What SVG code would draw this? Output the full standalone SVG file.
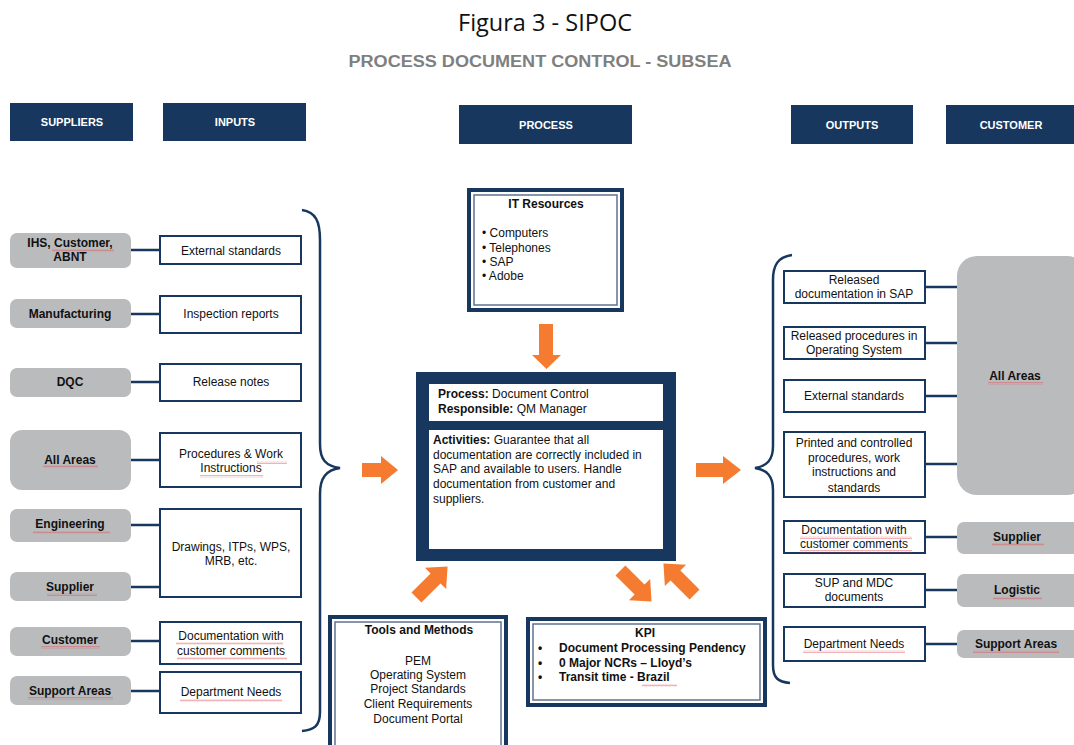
<svg xmlns="http://www.w3.org/2000/svg" width="1074" height="745" viewBox="0 0 1074 745">
<defs>
<style>
text{font-family:"Liberation Sans",Arial,sans-serif;font-size:12px;fill:#111}
.hd{fill:#17375e}
.hdt{fill:#fff;font-weight:bold;font-size:11px;text-anchor:middle}
.sup{fill:#b9bbbd}
.b{font-weight:bold}
.c{text-anchor:middle}
.box{fill:#fff;stroke:#17375e;stroke-width:2}
.ln{stroke:#17375e;stroke-width:2.5;fill:none}
.brace{stroke:#17375e;stroke-width:2.5;fill:none}
.arr{fill:#f47b30}
.dbl{fill:#fff;stroke:#17375e;stroke-width:4}
.dbli{fill:none;stroke:#5f7390;stroke-width:1.5}
.sq{fill:url(#sq);opacity:0.75}
</style>
<pattern id="sq" width="4" height="3" patternUnits="userSpaceOnUse">
<path d="M0 2.4 L1 0.6 L2 2.4 L3 0.6 L4 2.4" stroke="#e05058" stroke-width="0.6" fill="none"/>
</pattern>
<polygon id="darr" points="-22,-7 5,-7 5,-15 22,0 5,15 5,7 -22,7"/>
</defs>
<rect width="1074" height="745" fill="#fff"/>

<g id="title">
<text x="545" y="31" text-anchor="middle" style="font-family:'Open Sans','Noto Sans',sans-serif;font-size:23px" textLength="174" lengthAdjust="spacingAndGlyphs">Figura 3 - SIPOC</text>
<text x="540" y="67" text-anchor="middle" style="font-size:16px;font-weight:bold;fill:#7f7f7f" textLength="383" lengthAdjust="spacingAndGlyphs">PROCESS DOCUMENT CONTROL - SUBSEA</text>
</g>

<g id="headers">
<g id="h-suppliers"><rect class="hd" x="10" y="103" width="123" height="38"/><text class="hdt" x="72" y="126">SUPPLIERS</text></g>
<g id="h-inputs"><rect class="hd" x="163" y="103" width="143" height="38"/><text class="hdt" x="235" y="126">INPUTS</text></g>
<g id="h-process"><rect class="hd" x="459" y="105" width="173" height="39"/><text class="hdt" x="546" y="129">PROCESS</text></g>
<g id="h-outputs"><rect class="hd" x="791" y="105" width="122" height="39"/><text class="hdt" x="852" y="129">OUTPUTS</text></g>
<g id="h-customer"><rect class="hd" x="946" y="105" width="128" height="39"/><text class="hdt" x="1011" y="129">CUSTOMER</text></g>
</g>

<g id="connectors">
<line class="ln" x1="131" y1="250" x2="160" y2="250"/>
<line class="ln" x1="131" y1="314" x2="160" y2="314"/>
<line class="ln" x1="131" y1="382" x2="160" y2="382"/>
<line class="ln" x1="131" y1="460" x2="160" y2="460"/>
<line class="ln" x1="131" y1="525" x2="160" y2="525"/>
<line class="ln" x1="131" y1="587" x2="160" y2="587"/>
<line class="ln" x1="131" y1="641" x2="160" y2="641"/>
<line class="ln" x1="131" y1="691" x2="160" y2="691"/>
<line class="ln" x1="925" y1="287" x2="957" y2="287"/>
<line class="ln" x1="925" y1="343" x2="957" y2="343"/>
<line class="ln" x1="925" y1="396" x2="957" y2="396"/>
<line class="ln" x1="925" y1="464" x2="957" y2="464"/>
<line class="ln" x1="925" y1="537" x2="957" y2="537"/>
<line class="ln" x1="925" y1="590" x2="957" y2="590"/>
<line class="ln" x1="925" y1="644" x2="957" y2="644"/>
<path class="brace" d="M302,210 C316,212 320,222 320,240 L320,444 C320,460 326,466 340,468 C326,470 320,478 320,494 L320,712 C320,726 314,730 302,731"/>
<path class="brace" d="M792,255 C778,257 773,265 773,280 L773,446 C773,460 767,466 755,468 C767,470 773,476 773,490 L773,665 C773,678 778,682 790,683"/>
<polygon class="arr" points="362,463 381,463 381,456 398,470 381,484 381,477 362,477"/>
<polygon class="arr" points="696,463 723,463 723,456 741,470 723,484 723,477 696,477"/>
<polygon class="arr" points="539,324 553,324 553,355 561,355 546.5,369 532,355 539,355"/>
<use href="#darr" class="arr" transform="translate(432,582) rotate(-45)"/>
<use href="#darr" class="arr" transform="translate(636,586) rotate(45)"/>
<use href="#darr" class="arr" transform="translate(679,579) rotate(-135)"/>
</g>

<g id="suppliers">
<g id="s-ihs"><rect class="sup" x="10" y="233" width="121" height="35" rx="7"/><text class="b c" x="70" y="247">IHS, Customer,</text><text class="b c" x="70" y="261">ABNT</text></g>
<g id="s-manufacturing"><rect class="sup" x="10" y="299" width="121" height="29" rx="7"/><text class="b c" x="70" y="318">Manufacturing</text></g>
<g id="s-dqc"><rect class="sup" x="10" y="368" width="121" height="29" rx="7"/><text class="b c" x="70" y="386">DQC</text></g>
<g id="s-allareas"><rect class="sup" x="10" y="430" width="121" height="60" rx="12"/><text class="b c" x="70" y="464">All Areas</text></g>
<g id="s-engineering"><rect class="sup" x="10" y="509" width="121" height="33" rx="7"/><text class="b c" x="70" y="528">Engineering</text></g>
<g id="s-supplier"><rect class="sup" x="10" y="572" width="121" height="29" rx="7"/><text class="b c" x="70" y="591">Supplier</text></g>
<g id="s-customer"><rect class="sup" x="10" y="627" width="121" height="29" rx="7"/><text class="b c" x="70" y="644">Customer</text></g>
<g id="s-support"><rect class="sup" x="10" y="676" width="121" height="29" rx="7"/><text class="b c" x="70" y="695">Support Areas</text></g>
</g>

<g id="inputs">
<g id="i-ext"><rect class="box" x="160" y="236" width="141" height="28"/><text class="c" x="231" y="255">External standards</text></g>
<g id="i-insp"><rect class="box" x="160" y="296" width="141" height="37"/><text class="c" x="231" y="318">Inspection reports</text></g>
<g id="i-rel"><rect class="box" x="160" y="364" width="141" height="37"/><text class="c" x="231" y="386">Release notes</text></g>
<g id="i-proc"><rect class="box" x="160" y="433" width="141" height="54"/><text class="c" x="231" y="458">Procedures &amp; Work</text><text class="c" x="231" y="472">Instructions</text></g>
<g id="i-draw"><rect class="box" x="160" y="509" width="141" height="88"/><text class="c" x="231" y="551">Drawings, ITPs, WPS,</text><text class="c" x="231" y="565">MRB,  etc.</text></g>
<g id="i-doc"><rect class="box" x="160" y="622" width="141" height="42"/><text class="c" x="231" y="640">Documentation  with</text><text class="c" x="231" y="655">customer comments</text></g>
<g id="i-dept"><rect class="box" x="160" y="672" width="141" height="41"/><text class="c" x="231" y="696">Department  Needs</text></g>
</g>

<g id="it-resources">
<rect class="dbl" x="469" y="190" width="153" height="120"/>
<rect class="dbli" x="474" y="195" width="143" height="110"/>
<text class="b c" x="546" y="208">IT Resources</text>
<text x="482" y="237">• Computers</text>
<text x="482" y="252">• Telephones</text>
<text x="482" y="266">• SAP</text>
<text x="482" y="280">• Adobe</text>
</g>

<g id="process">
<rect x="416" y="372" width="260" height="189" fill="#17375e"/>
<rect x="429" y="384" width="234" height="37" fill="#fff"/>
<rect x="429" y="430" width="234" height="119" fill="#fff"/>
<text x="438" y="398"><tspan class="b">Process:</tspan> Document Control</text>
<text x="438" y="413"><tspan class="b">Responsible:</tspan> QM Manager</text>
<text x="433" y="444"><tspan class="b">Activities:</tspan> Guarantee that all</text>
<text x="433" y="459">documentation are correctly included in</text>
<text x="433" y="473">SAP and available to users. Handle</text>
<text x="433" y="488">documentation  from customer and</text>
<text x="433" y="503">suppliers.</text>
</g>

<g id="tools">
<rect class="dbl" x="330" y="617" width="176" height="140"/>
<rect class="dbli" x="335" y="622" width="166" height="130"/>
<text class="b c" x="419" y="634">Tools and Methods</text>
<text class="c" x="418" y="665">PEM</text>
<text class="c" x="418" y="679">Operating System</text>
<text class="c" x="418" y="693">Project Standards</text>
<text class="c" x="418" y="708">Client Requirements</text>
<text class="c" x="418" y="723">Document Portal</text>
</g>

<g id="kpi">
<rect class="dbl" x="528" y="619" width="237" height="86"/>
<rect class="dbli" x="533" y="624" width="227" height="76"/>
<text class="b c" x="645" y="637">KPI</text>
<text class="b" x="538" y="652">•</text>
<text class="b" x="538" y="667">•</text>
<text class="b" x="538" y="681">•</text>
<text class="b" x="559" y="652">Document Processing  Pendency</text>
<text class="b" x="559" y="667">0 Major NCRs – Lloyd’s</text>
<text class="b" x="559" y="681">Transit time - Brazil</text>
</g>

<g id="outputs">
<g id="o-sap"><rect class="box" x="784" y="271" width="141" height="32"/><text class="c" x="854" y="284">Released</text><text class="c" x="854" y="298">documentation in SAP</text></g>
<g id="o-os"><rect class="box" x="784" y="327" width="141" height="32"/><text class="c" x="854" y="340">Released procedures in</text><text class="c" x="854" y="354">Operating System</text></g>
<g id="o-ext"><rect class="box" x="784" y="380" width="141" height="32"/><text class="c" x="854" y="400">External standards</text></g>
<g id="o-print"><rect class="box" x="784" y="432" width="141" height="65"/><text class="c" x="854" y="447">Printed and controlled</text><text class="c" x="854" y="462">procedures, work</text><text class="c" x="854" y="476">instructions and</text><text class="c" x="854" y="492">standards</text></g>
<g id="o-doc"><rect class="box" x="784" y="521" width="141" height="32"/><text class="c" x="854" y="534">Documentation  with</text><text class="c" x="854" y="548">customer comments</text></g>
<g id="o-sup"><rect class="box" x="784" y="574" width="141" height="33"/><text class="c" x="854" y="587">SUP  and MDC</text><text class="c" x="854" y="601">documents</text></g>
<g id="o-dept"><rect class="box" x="784" y="627" width="141" height="34"/><text class="c" x="854" y="648">Department  Needs</text></g>
</g>

<g id="customers">
<g id="c-allareas"><rect class="sup" x="957" y="256" width="130" height="239" rx="20"/><text class="b c" x="1015" y="380">All Areas</text></g>
<g id="c-supplier"><rect class="sup" x="957" y="522" width="130" height="32" rx="7"/><text class="b c" x="1017" y="541">Supplier</text></g>
<g id="c-logistic"><rect class="sup" x="957" y="574" width="130" height="33" rx="7"/><text class="b c" x="1017" y="594">Logistic</text></g>
<g id="c-support"><rect class="sup" x="957" y="630" width="130" height="28" rx="7"/><text class="b c" x="1016" y="648">Support Areas</text></g>
</g>

<g id="spellcheck">
<rect class="sq" x="52" y="249" width="62" height="3"/>
<rect class="sq" x="43" y="465" width="55" height="3"/>
<rect class="sq" x="257" y="461" width="30" height="3"/>
<rect class="sq" x="200" y="475" width="63" height="3"/>
<rect class="sq" x="33" y="531" width="77" height="3"/>
<rect class="sq" x="47" y="593" width="50" height="3"/>
<rect class="sq" x="41" y="646" width="59" height="3"/>
<rect class="sq" x="28" y="697" width="85" height="3"/>
<rect class="sq" x="176" y="642" width="107" height="3"/>
<rect class="sq" x="177" y="657" width="110" height="3"/>
<rect class="sq" x="180" y="699" width="102" height="3"/>
<rect class="sq" x="642" y="684" width="35" height="3"/>
<rect class="sq" x="988" y="382" width="55" height="3"/>
<rect class="sq" x="800" y="536" width="112" height="3"/>
<rect class="sq" x="800" y="550" width="112" height="3"/>
<rect class="sq" x="992" y="543" width="52" height="3"/>
<rect class="sq" x="993" y="597" width="49" height="3"/>
<rect class="sq" x="973" y="650" width="86" height="3"/>
<rect class="sq" x="803" y="650" width="102" height="3"/>
</g>
</svg>
